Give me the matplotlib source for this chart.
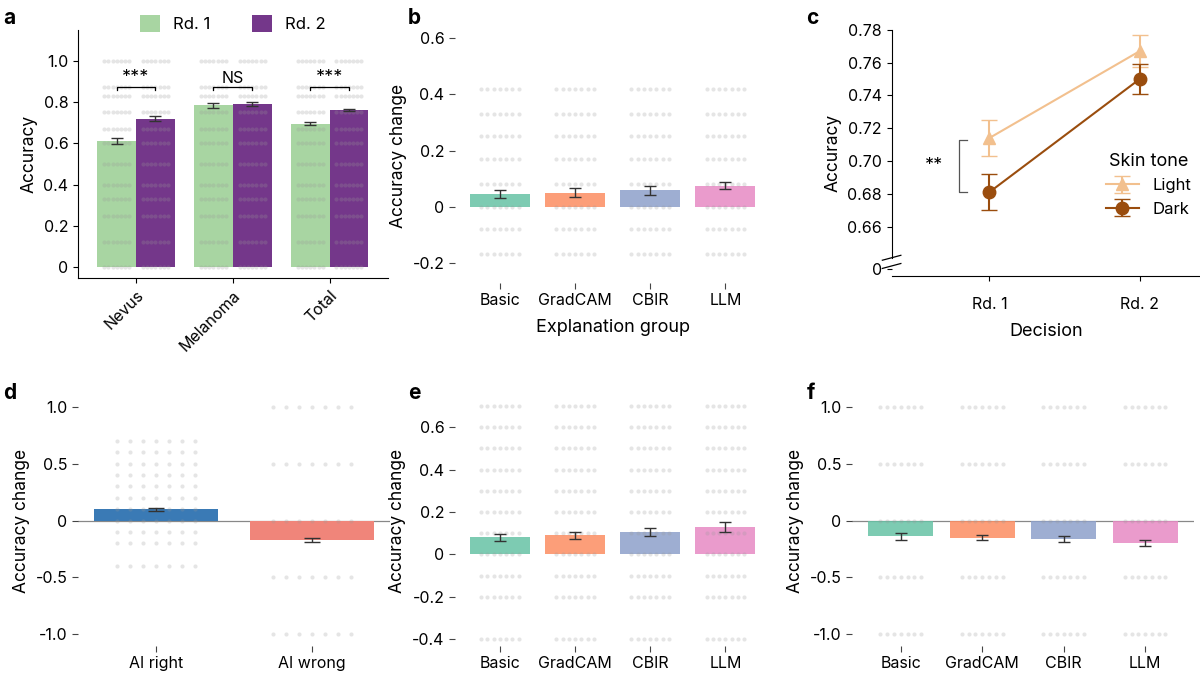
import matplotlib
matplotlib.use("Agg")
import matplotlib.pyplot as plt
import numpy as np

plt.rcParams['font.family'] = ['Inter', 'DejaVu Sans']
plt.rcParams['font.size'] = 11.5

# ---- data ----
a_cats = ["Nevus", "Melanoma", "Total"]
a_rd1 = [0.61, 0.785, 0.695]
a_rd2 = [0.72, 0.79, 0.76]
a_err1 = [0.015, 0.012, 0.008]
a_err2 = [0.013, 0.010, 0.005]
a_levels = [0, 0.125, 0.25, 0.33, 0.4, 0.5, 0.6, 0.67, 0.75, 0.83, 0.875, 1.0]

groups = ["Basic", "GradCAM", "CBIR", "LLM"]
b_vals = [0.045, 0.050, 0.058, 0.075]
b_err = [0.015, 0.016, 0.015, 0.013]
b_levels = [-0.17, -0.08, 0, 0.08, 0.17, 0.25, 0.33, 0.42]

c_x = ["Rd. 1", "Rd. 2"]
c_light = [0.714, 0.767]
c_light_err = [0.011, 0.010]
c_dark = [0.681, 0.750]
c_dark_err = [0.011, 0.009]

d_cats = ["AI right", "AI wrong"]
d_vals = [0.10, -0.17]
d_err = [0.012, 0.015]
d_levels_right = [-0.4, -0.2, -0.1, 0, 0.1, 0.2, 0.3, 0.4, 0.5, 0.6, 0.7]
d_levels_wrong = [-1.0, -0.5, 0, 0.5, 1.0]

e_vals = [0.08, 0.09, 0.105, 0.13]
e_err = [0.018, 0.018, 0.02, 0.022]
e_levels = [-0.4, -0.2, -0.1, 0, 0.1, 0.2, 0.3, 0.4, 0.5, 0.6, 0.7]

f_vals = [-0.14, -0.15, -0.16, -0.20]
f_err = [0.03, 0.025, 0.028, 0.025]
f_levels = [-1.0, -0.5, 0, 0.5, 1.0]

grp_colors = ["#66c2a5", "#fc8d62", "#8da0cb", "#e78ac3"]
dot = dict(color="#999999", alpha=0.25, s=9, lw=0, zorder=3)

fig = plt.figure(figsize=(12, 6.76), dpi=100)

def strip(ax, x, levels, width):
    for v in levels:
        xs = x + np.linspace(-width, width, 7)
        ax.scatter(xs, [v] * len(xs), **dot)

def clean(ax):
    for s in ax.spines.values():
        s.set_visible(False)
    ax.tick_params(length=4, color="#444444")

# ---- a ----
ax = fig.add_axes([0.065, 0.589, 0.258, 0.367])
x = np.arange(3)
w = 0.4
ax.bar(x - w/2, a_rd1, w, color="#a8d5a2", label="Rd. 1", zorder=1)
ax.bar(x + w/2, a_rd2, w, color="#74378a", label="Rd. 2", zorder=1)
ax.errorbar(x - w/2, a_rd1, yerr=a_err1, fmt="none", ecolor="#333333", capsize=4, lw=1, zorder=4)
ax.errorbar(x + w/2, a_rd2, yerr=a_err2, fmt="none", ecolor="#333333", capsize=4, lw=1, zorder=4)
for i in range(3):
    strip(ax, x[i] - w/2, a_levels, 0.13)
    strip(ax, x[i] + w/2, a_levels, 0.13)
sig = ["***", "NS", "***"]
for i in range(3):
    ax.plot([x[i]-w/2, x[i]-w/2, x[i]+w/2, x[i]+w/2], [0.86, 0.875, 0.875, 0.86], color="k", lw=0.9, zorder=5)
    ax.text(x[i], 0.88, sig[i], ha="center", va="bottom", fontsize=13 if sig[i] != "NS" else 11.5, zorder=5)
ax.set_ylim(-0.05, 1.15)
ax.set_xlim(-0.6, 2.6)
ax.set_yticks([0, 0.2, 0.4, 0.6, 0.8, 1.0])
ax.set_yticklabels(["0", "0.2", "0.4", "0.6", "0.8", "1.0"])
ax.set_xticks(x)
ax.set_xticklabels(a_cats, rotation=45, ha="right", rotation_mode="anchor")
ax.set_ylabel("Accuracy", fontsize=12.5)
ax.spines[["top", "right"]].set_visible(False)
ax.legend(loc="upper center", bbox_to_anchor=(0.5, 1.12), ncol=2, frameon=False, handlelength=1.2, handleheight=1.2, columnspacing=2.5, fontsize=12)
fig.text(0.003, 0.965, "a", fontsize=15, fontweight="bold")

# ---- b ----
ax = fig.add_axes([0.379, 0.582, 0.263, 0.374])
x = np.arange(4)
ax.bar(x, b_vals, 0.8, color=grp_colors, alpha=0.85, zorder=1)
ax.errorbar(x, b_vals, yerr=b_err, fmt="none", ecolor="#333333", capsize=4, lw=1, zorder=4)
for i in range(4):
    strip(ax, x[i], b_levels, 0.25)
ax.set_ylim(-0.27, 0.63)
ax.set_xlim(-0.6, 3.6)
ax.set_yticks([-0.2, 0, 0.2, 0.4, 0.6])
ax.set_yticklabels(["-0.2", "0", "0.2", "0.4", "0.6"])
ax.set_xticks(x)
ax.set_xticklabels(groups)
ax.set_ylabel("Accuracy change", fontsize=12.5)
ax.set_xlabel("Explanation group", fontsize=13, labelpad=8)
clean(ax)
fig.text(0.34, 0.965, "b", fontsize=15, fontweight="bold")

# ---- c ----
ax = fig.add_axes([0.743, 0.592, 0.257, 0.364])
xc = np.arange(2)
ax.errorbar(xc, c_light, yerr=c_light_err, color="#f2c08e", marker="^", ms=9, capsize=6, lw=1.5, label="Light")
ax.errorbar(xc, c_dark, yerr=c_dark_err, color="#9a4d0e", marker="o", ms=9, capsize=6, lw=1.5, label="Dark")
ax.set_ylim(0.63, 0.78)
ax.set_xlim(-0.65, 1.4)
ax.set_yticks([0.634, 0.66, 0.68, 0.70, 0.72, 0.74, 0.76, 0.78])
ax.set_yticklabels(["0", "0.66", "0.68", "0.70", "0.72", "0.74", "0.76", "0.78"])
ax.set_xticks(xc)
ax.set_xticklabels(c_x)
ax.tick_params(axis="x", pad=12)
ax.set_xlabel("Decision", fontsize=13, labelpad=8)
ax.set_ylabel("Accuracy", fontsize=12.5)
ax.spines[["top", "right"]].set_visible(False)
ax.spines["left"].set_bounds(0.641, 0.78)
ax.plot([-0.03, 0.03], [0.6395, 0.6425], transform=ax.get_yaxis_transform(), color="k", lw=0.9, clip_on=False)
ax.plot([-0.03, 0.03], [0.6345, 0.6375], transform=ax.get_yaxis_transform(), color="k", lw=0.9, clip_on=False)
ax.plot([-0.15, -0.2, -0.2, -0.15], [0.713, 0.713, 0.681, 0.681], color="#555555", lw=0.9)
ax.text(-0.37, 0.697, "**", ha="center", va="center", fontsize=13)
ax.legend(title="Skin tone", loc="lower right", bbox_to_anchor=(1.02, 0.18), frameon=False, title_fontsize=13, fontsize=12)
fig.text(0.672, 0.965, "c", fontsize=15, fontweight="bold")

# ---- d ----
ax = fig.add_axes([0.065, 0.045, 0.26, 0.37])
x = np.arange(2)
ax.axhline(0, color="#888888", lw=0.9, zorder=0)
ax.bar(x, d_vals, 0.8, color=["#3a7ab5", "#f0857a"], zorder=1)
ax.errorbar(x, d_vals, yerr=d_err, fmt="none", ecolor="#333333", capsize=6, lw=1, zorder=4)
strip(ax, 0, d_levels_right, 0.25)
strip(ax, 1, d_levels_wrong, 0.25)
ax.set_ylim(-1.1, 1.1)
ax.set_xlim(-0.5, 1.5)
ax.set_yticks([-1.0, -0.5, 0, 0.5, 1.0])
ax.set_yticklabels(["-1.0", "-0.5", "0", "0.5", "1.0"])
ax.set_xticks(x)
ax.set_xticklabels(d_cats)
ax.set_ylabel("Accuracy change", fontsize=12.5)
clean(ax)
fig.text(0.003, 0.41, "d", fontsize=15, fontweight="bold")

# ---- e ----
ax = fig.add_axes([0.379, 0.045, 0.263, 0.37])
x = np.arange(4)
ax.bar(x, e_vals, 0.8, color=grp_colors, alpha=0.85, zorder=1)
ax.errorbar(x, e_vals, yerr=e_err, fmt="none", ecolor="#333333", capsize=4, lw=1, zorder=4)
for i in range(4):
    strip(ax, x[i], e_levels, 0.25)
ax.set_ylim(-0.43, 0.75)
ax.set_xlim(-0.6, 3.6)
ax.set_yticks([-0.4, -0.2, 0, 0.2, 0.4, 0.6])
ax.set_yticklabels(["-0.4", "-0.2", "0", "0.2", "0.4", "0.6"])
ax.set_xticks(x)
ax.set_xticklabels(groups)
ax.set_ylabel("Accuracy change", fontsize=12.5)
clean(ax)
fig.text(0.34, 0.41, "e", fontsize=15, fontweight="bold")

# ---- f ----
ax = fig.add_axes([0.71, 0.045, 0.285, 0.37])
ax.axhline(0, color="#888888", lw=0.9, zorder=0)
ax.bar(x, f_vals, 0.8, color=grp_colors, alpha=0.85, zorder=1)
ax.errorbar(x, f_vals, yerr=f_err, fmt="none", ecolor="#333333", capsize=4, lw=1, zorder=4)
for i in range(4):
    strip(ax, x[i], f_levels, 0.25)
ax.set_ylim(-1.1, 1.1)
ax.set_xlim(-0.6, 3.6)
ax.set_yticks([-1.0, -0.5, 0, 0.5, 1.0])
ax.set_yticklabels(["-1.0", "-0.5", "0", "0.5", "1.0"])
ax.set_xticks(x)
ax.set_xticklabels(groups)
ax.set_ylabel("Accuracy change", fontsize=12.5)
clean(ax)
fig.text(0.672, 0.41, "f", fontsize=15, fontweight="bold")

fig.savefig("out.png", dpi=100)
